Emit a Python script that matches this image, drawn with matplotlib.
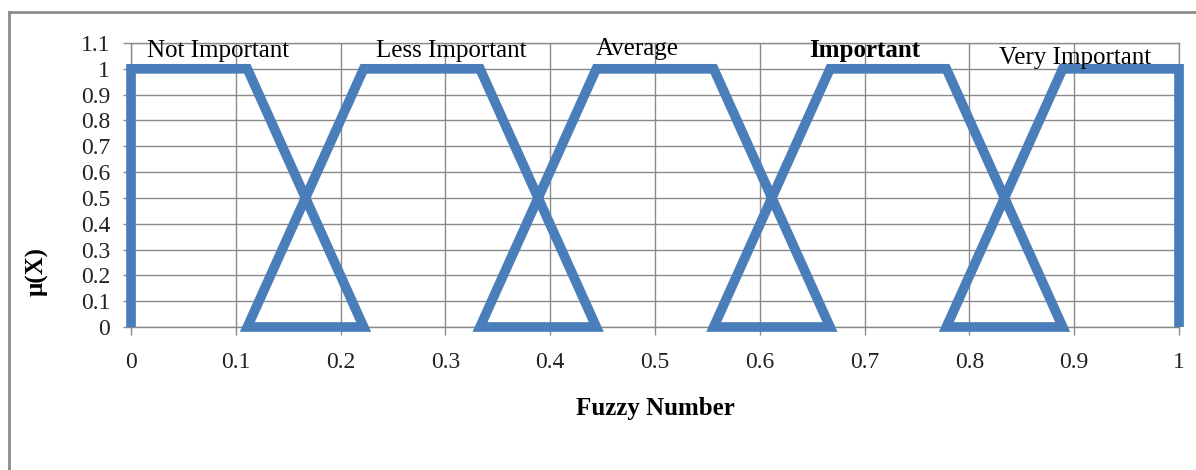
import matplotlib
matplotlib.use("Agg")
import matplotlib.pyplot as plt
from matplotlib.lines import Line2D

# Membership polyline (one continuous series)
x_points = [0, 0, 0.111, 0.222, 0.111, 0.222, 0.333, 0.444, 0.333, 0.444,
            0.556, 0.667, 0.556, 0.667, 0.778, 0.889, 0.778, 0.889, 1.0, 1.0]
y_points = [0, 1, 1, 0, 0, 1, 1, 0, 0, 1,
            1, 0, 0, 1, 1, 0, 0, 1, 1, 0]

labels = ["Not Important", "Less Important", "Average", "Important", "Very Important"]
label_x = [0.083, 0.306, 0.483, 0.700, 0.901]
label_y = [1.07, 1.07, 1.075, 1.07, 1.04]
label_weight = ["normal", "normal", "normal", "bold", "normal"]

x_ticks = [0, 0.1, 0.2, 0.3, 0.4, 0.5, 0.6, 0.7, 0.8, 0.9, 1]
x_tick_labels = ["0", "0.1", "0.2", "0.3", "0.4", "0.5", "0.6", "0.7", "0.8", "0.9", "1"]
y_ticks = [0, 0.1, 0.2, 0.3, 0.4, 0.5, 0.6, 0.7, 0.8, 0.9, 1, 1.1]
y_tick_labels = ["0", "0.1", "0.2", "0.3", "0.4", "0.5", "0.6", "0.7", "0.8", "0.9", "1", "1.1"]

SERIF = "Liberation Serif"
GRID = "#8a8a8a"
BLUE = "#4A7EBB"

fig = plt.figure(figsize=(11.96, 4.70), dpi=100)
fig.patch.set_facecolor("white")
ax = fig.add_axes([131/1196, 143/470, 1048/1196, 284/470])

ax.plot(x_points, y_points, color=BLUE, lw=7, solid_joinstyle="miter",
        solid_capstyle="butt", clip_on=False, zorder=3)

ax.set_xlim(0, 1)
ax.set_ylim(0, 1.1)
ax.set_xticks(x_ticks)
ax.set_xticklabels(x_tick_labels, fontfamily=SERIF, fontsize=17, color="#222222")
ax.set_yticks(y_ticks)
ax.set_yticklabels(y_tick_labels, fontfamily=SERIF, fontsize=17, color="#222222")
ax.tick_params(axis="x", length=6, width=1, color=GRID, pad=12)
ax.tick_params(axis="y", length=6, width=1, color=GRID, pad=9)
ax.grid(True, color=GRID, lw=1)
ax.set_axisbelow(True)
for s in ax.spines.values():
    s.set_color(GRID)
    s.set_linewidth(1)

for t, xx, yy, w in zip(labels, label_x, label_y, label_weight):
    ax.text(xx, yy, t, ha="center", va="center", fontfamily=SERIF,
            fontsize=18, fontweight=w, zorder=4)

ax.set_xlabel("Fuzzy Number", fontfamily=SERIF, fontsize=18, fontweight="bold", labelpad=17)
ax.set_ylabel("μ(X)", fontfamily=SERIF, fontsize=18, fontweight="bold")
ax.yaxis.set_label_coords(-0.079, 0.194)

# outer chart frame
fig.add_artist(Line2D([9/1196, 9/1196], [0, 1 - 12/470], color="#8c8c8c", lw=2,
                      transform=fig.transFigure))
fig.add_artist(Line2D([9/1196, 1], [1 - 12/470, 1 - 12/470], color="#8c8c8c", lw=2,
                      transform=fig.transFigure))

fig.savefig("out.png", dpi=100)
